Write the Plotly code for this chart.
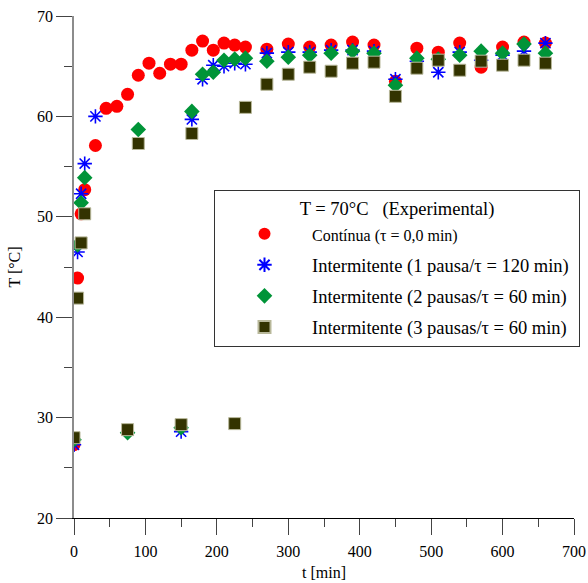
import plotly.graph_objects as go

# Contínua (tau = 0,0 min)
t_cont = [0, 5, 10, 15, 30, 45, 60, 75, 90, 105, 120, 135, 150, 165, 180, 195, 210, 225, 240,
          270, 300, 330, 360, 390, 420, 450, 480, 510, 540, 570, 600, 630, 660]
T_cont = [27.3, 43.9, 50.3, 52.7, 57.1, 60.8, 61.0, 62.2, 64.1, 65.3, 64.3, 65.2, 65.2, 66.6, 67.5, 66.6, 67.3, 67.1, 66.9,
          66.7, 67.2, 66.9, 67.1, 67.4, 67.1, 63.5, 66.8, 66.4, 67.3, 64.9, 66.9, 67.4, 67.3]

# Intermitente (1 pausa / tau = 120 min)
t_int1 = [0, 5, 10, 15, 30, 150, 165, 180, 195, 210, 225, 240,
          270, 300, 330, 360, 390, 420, 450, 480, 510, 540, 570, 600, 630, 660]
T_int1 = [27.3, 46.5, 52.3, 55.3, 60.0, 28.6, 59.7, 63.7, 65.1, 65.0, 65.3, 65.2,
          66.3, 66.4, 66.4, 66.6, 66.6, 66.5, 63.7, 65.5, 64.4, 66.4, 65.6, 66.1, 66.5, 67.3]

# Intermitente (2 pausas / tau = 60 min)
t_int2 = [0, 5, 10, 15, 75, 90, 150, 165, 180, 195, 210, 225, 240,
          270, 300, 330, 360, 390, 420, 450, 480, 510, 540, 570, 600, 630, 660]
T_int2 = [27.8, 47.2, 51.4, 53.9, 28.5, 58.7, 29.0, 60.5, 64.2, 64.4, 65.6, 65.7, 65.8,
          65.5, 65.9, 66.1, 66.3, 66.5, 66.3, 63.1, 65.8, 65.7, 66.1, 66.5, 66.3, 67.2, 66.3]

# Intermitente (3 pausas / tau = 60 min)
t_int3 = [0, 5, 10, 15, 75, 90, 150, 165, 225, 240,
          270, 300, 330, 360, 390, 420, 450, 480, 510, 540, 570, 600, 630, 660]
T_int3 = [28.0, 41.9, 47.4, 50.3, 28.8, 57.3, 29.3, 58.3, 29.4, 60.9,
          63.2, 64.2, 64.9, 64.5, 65.3, 65.4, 62.0, 64.8, 65.6, 64.6, 65.5, 65.1, 65.6, 65.3]

names = [
    '<span style="font-size:16px">Contínua (τ = 0,0 min)</span>',
    "Intermitente (1 pausa/τ = 120 min)\u00a0",
    "Intermitente (2 pausas/τ = 60 min)",
    "Intermitente (3 pausas/τ = 60 min)",
]
legend_title = "T = 70°C\u00a0\u00a0\u00a0(Experimental)"
x_label = "t [min]"
y_label = "T [°C]"

FONT = "Liberation Serif, Times New Roman, serif"

fig = go.Figure()
fig.add_trace(go.Scatter(x=t_cont, y=T_cont, mode="markers", name=names[0], legendgroup="a",
                         marker=dict(symbol="circle", size=13, color="#ff0000", line=dict(width=0))))
fig.add_trace(go.Scatter(x=t_int1, y=T_int1, mode="markers", name=names[1], legendgroup="b",
                         marker=dict(symbol="asterisk-open", size=12, color="#0000ff",
                                     line=dict(width=1.6, color="#0000ff"))))
fig.add_trace(go.Scatter(x=t_int2, y=T_int2, mode="markers", name=names[2], legendgroup="c",
                         marker=dict(symbol="diamond", size=12, color="#009438", line=dict(width=0))))
fig.add_trace(go.Scatter(x=t_int3, y=T_int3, mode="markers", name=names[3], legendgroup="d",
                         marker=dict(symbol="square", size=12, color="#333300",
                                     line=dict(width=1, color="#b8b89a"))))

axis_common = dict(
    showgrid=False, zeroline=False, showline=True, automargin=False,
    ticks="outside", ticklen=16, tickwidth=1, tickcolor="#444444",
    tickfont=dict(family=FONT, size=16, color="black"),
    title_font=dict(family=FONT, size=16, color="black"),
    mirror=False,
)

fig.update_xaxes(range=[0, 700], dtick=100, tick0=0, linecolor="black", linewidth=1,
                 minor=dict(dtick=50, ticks="outside", ticklen=8, tickcolor="#444444"),
                 ticklabelstandoff=3,
                 title_text=x_label, title_standoff=7, **axis_common)
fig.update_yaxes(range=[20, 70], dtick=10, tick0=20, linecolor="#8c8c8c", linewidth=1.5,
                 minor=dict(dtick=5, ticks="outside", ticklen=8, tickcolor="#444444"),
                 title_text=y_label, title_standoff=12, **axis_common)

fig.update_layout(
    width=588, height=583,
    margin=dict(l=74, r=14, t=16, b=65, autoexpand=False),
    plot_bgcolor="white", paper_bgcolor="white",
    font=dict(family=FONT, size=16, color="black"),
    showlegend=True,
    legend=dict(
        x=0.28, xanchor="left", y=0.653, yanchor="top",
        bgcolor="white", bordercolor="#333333", borderwidth=1,
        font=dict(family=FONT, size=18.5, color="black"),
        title=dict(text=legend_title, side="top center", font=dict(family=FONT, size=18.5)),
        traceorder="grouped", tracegroupgap=4,
        itemsizing="constant", itemwidth=85, indentation=2,
    ),
)

fig.write_html("out.html", config={"displayModeBar": False},
               post_script="document.body.style.margin='0px';")
